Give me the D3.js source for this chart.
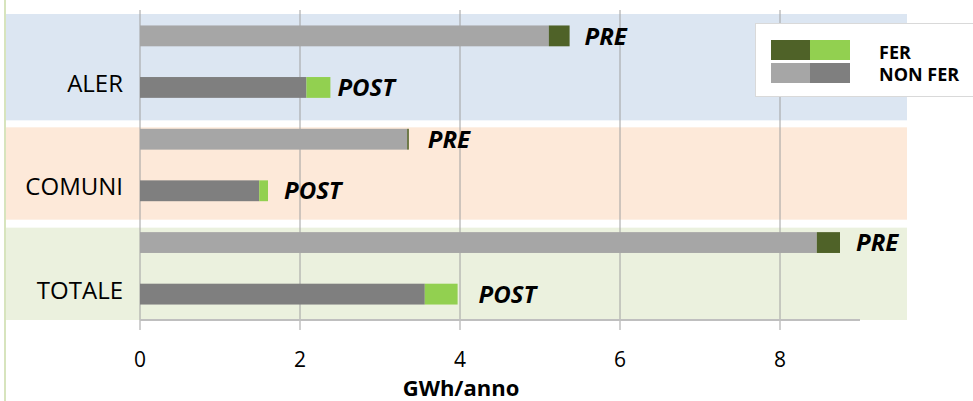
<!DOCTYPE html>
<html>
<head>
<meta charset="utf-8">
<script src="https://cdn.jsdelivr.net/npm/d3@7"></script>
<style>
    body { margin: 0; background: #ffffff; }
    svg { display: block; font-family: "Open Sans", sans-serif; }
</style>
</head>
<body>
<svg id="chart"></svg>
<script>

const width = 973;
const height = 401;

// data (GWh/anno)
const groups = ["ALER", "COMUNI", "TOTALE"];
const phases = ["PRE", "POST"];
const nonFerValues = [5.11, 2.08, 3.34, 1.49, 8.46, 3.56];
const ferValues = [0.26, 0.30, 0.02, 0.11, 0.29, 0.41];
const xTicks = [0, 2, 4, 6, 8];
const legendLabels = ["FER", "NON FER"];
const axisTitle = "GWh/anno";

const bandColors = ["#dce6f2", "#fde9d9", "#ebf1de"];
const nonFerColors = { PRE: "#a6a6a6", POST: "#7f7f7f" };
const ferColors = { PRE: "#4f6228", POST: "#92d050" };

const svg = d3.select("#chart")
    .attr("width", width)
    .attr("height", height);

const x = d3.scaleLinear()
    .domain([0, 9])
    .range([140, 860]);

const y = d3.scaleBand()
    .domain(groups)
    .range([10, 320]);

const yPhase = d3.scaleBand()
    .domain(phases)
    .range([0, y.bandwidth()])
    .paddingInner(0.596)
    .paddingOuter(0.3);

const rows = [];
groups.forEach((g, i) => {
    phases.forEach((p, j) => {
        rows.push({
            group: g,
            phase: p,
            nonFer: nonFerValues[i * 2 + j],
            fer: ferValues[i * 2 + j]
        });
    });
});

// left edge line
svg.append("line")
    .attr("x1", 5).attr("x2", 5)
    .attr("y1", 0).attr("y2", height)
    .attr("stroke", "#d7e4bd")
    .attr("stroke-width", 2);

// coloured background bands
const bandTopPad = [4, 14, 11];
const bandBottomPad = [7, 3, 0];
svg.selectAll(".band")
    .data(groups)
    .join("rect")
    .attr("class", "band")
    .attr("x", 6)
    .attr("width", 901)
    .attr("y", (d, i) => y(d) + bandTopPad[i])
    .attr("height", (d, i) => y.bandwidth() - bandTopPad[i] + bandBottomPad[i])
    .attr("fill", (d, i) => bandColors[i]);

// vertical gridlines
svg.selectAll(".grid")
    .data(xTicks)
    .join("line")
    .attr("class", "grid")
    .attr("x1", d => x(d)).attr("x2", d => x(d))
    .attr("y1", 10).attr("y2", 330)
    .attr("stroke", "#a0a0a0")
    .attr("stroke-width", 1);

// bottom axis line
svg.append("line")
    .attr("x1", x(0)).attr("x2", x(9))
    .attr("y1", 320).attr("y2", 320)
    .attr("stroke", "#bfbfbf")
    .attr("stroke-width", 2);

// tick labels
svg.selectAll(".tick-label")
    .data(xTicks)
    .join("text")
    .attr("class", "tick-label")
    .attr("x", d => x(d))
    .attr("y", 367)
    .attr("text-anchor", "middle")
    .style("font-size", "21px")
    .attr("fill", "#000")
    .text(d => d);

svg.append("text")
    .attr("x", 461)
    .attr("y", 396)
    .attr("text-anchor", "middle")
    .style("font-size", "22px")
    .style("font-weight", "bold")
    .text(axisTitle);

// category labels
svg.selectAll(".cat-label")
    .data(groups)
    .join("text")
    .attr("class", "cat-label")
    .attr("x", 123)
    .attr("y", d => y(d) + 82)
    .attr("text-anchor", "end")
    .style("font-size", "24px")
    .text(d => d);

// bars: non FER part then FER part
const barY = d => y(d.group) + yPhase(d.phase);

svg.selectAll(".bar-nonfer")
    .data(rows)
    .join("rect")
    .attr("class", "bar-nonfer")
    .attr("x", x(0))
    .attr("y", barY)
    .attr("width", d => x(d.nonFer) - x(0))
    .attr("height", yPhase.bandwidth())
    .attr("fill", d => nonFerColors[d.phase]);

svg.selectAll(".bar-fer")
    .data(rows)
    .join("rect")
    .attr("class", "bar-fer")
    .attr("x", d => x(d.nonFer))
    .attr("y", barY)
    .attr("width", d => x(d.nonFer + d.fer) - x(d.nonFer))
    .attr("height", yPhase.bandwidth())
    .attr("fill", d => ferColors[d.phase]);

// label gaps as placed in the original chart
const labelGap = [15, 7, 19, 16, 16, 21];
svg.selectAll(".bar-label")
    .data(rows)
    .join("text")
    .attr("class", "bar-label")
    .attr("x", (d, i) => x(d.nonFer + d.fer) + labelGap[i])
    .attr("y", d => barY(d) + yPhase.bandwidth() / 2)
    .attr("dy", "0.36em")
    .style("font-size", "24px")
    .style("font-weight", "bold")
    .style("font-style", "italic")
    .text(d => d.phase);

// legend
const legend = svg.append("g");

legend.append("rect")
    .attr("x", 755.5)
    .attr("y", 23.5)
    .attr("width", 240)
    .attr("height", 73)
    .attr("fill", "#ffffff")
    .attr("stroke", "#d9d9d9");

const swatches = [
    [ferColors.PRE, ferColors.POST],
    [nonFerColors.PRE, nonFerColors.POST]
];
swatches.forEach((pair, i) => {
    pair.forEach((c, j) => {
        legend.append("rect")
            .attr("x", 771 + j * 39)
            .attr("y", 40 + i * 23)
            .attr("width", j === 0 ? 39 : 40)
            .attr("height", 20)
            .attr("fill", c);
    });
    legend.append("text")
        .attr("x", 879)
        .attr("y", 59 + i * 22)
        .style("font-size", "18px")
        .style("font-weight", "bold")
        .text(legendLabels[i]);
});

</script>
</body>
</html>
